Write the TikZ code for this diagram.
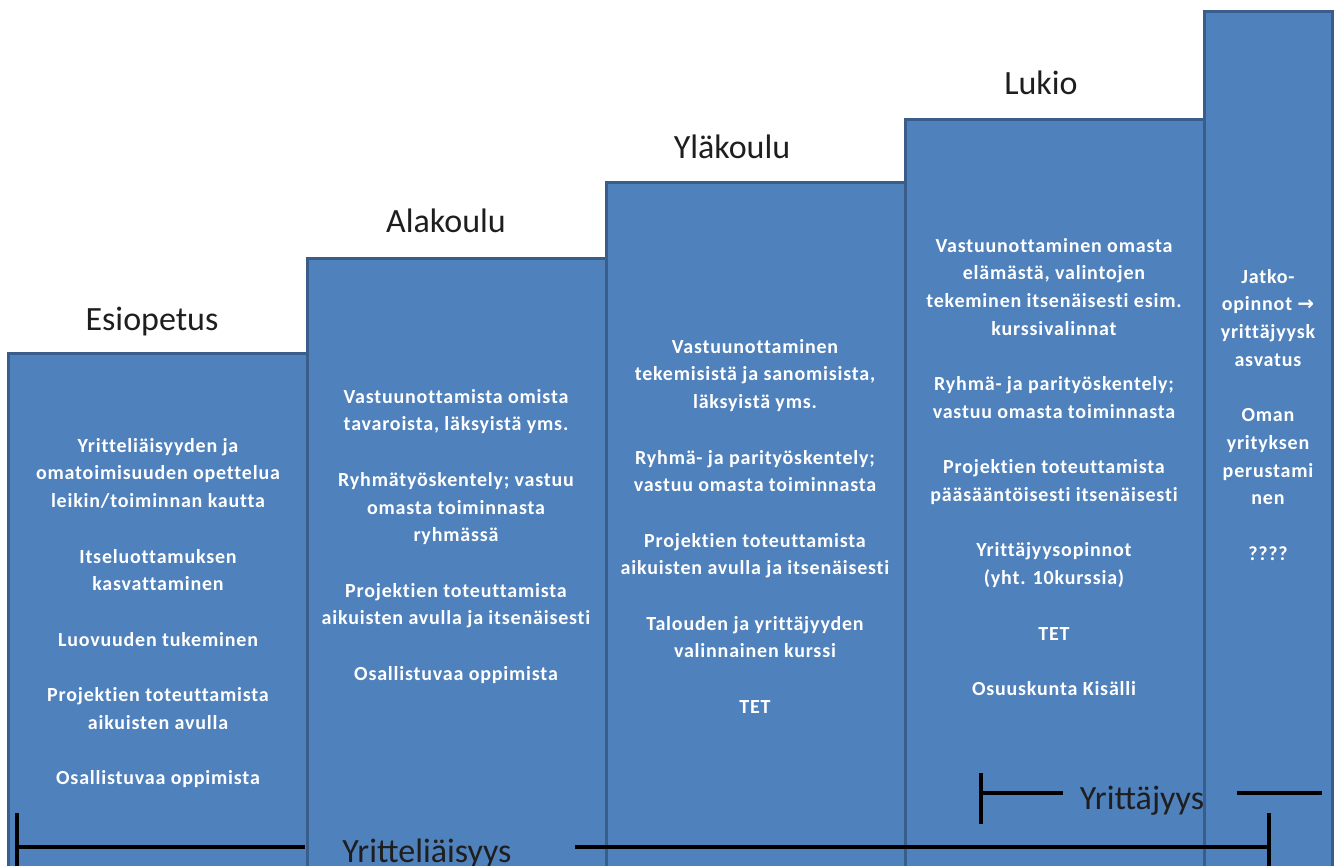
\documentclass[tikz,border=0pt]{standalone}
\usepackage{fontspec}
\setmainfont{Carlito}
\newfontfamily\bodyfamily{Carlito}[Ligatures=CommonOff, LetterSpace=4]
\newfontfamily\arrowfont{DejaVu Sans}
\definecolor{colfill}{HTML}{4F81BD}
\definecolor{colline}{HTML}{3A5E8C}
\definecolor{titletext}{HTML}{1E1E1E}
\newcommand\firststrut{\rule{0pt}{20pt}}
\newcommand\pbreak{\\[27.7pt]}
\begin{document}
\begin{tikzpicture}[x=1pt,y=-1pt,
  column/.style={fill=colfill, draw=colline, line width=3pt},
  body/.style={text=white, font=\bodyfamily\fontsize{20}{27.7}\selectfont\bfseries, align=center, anchor=north, inner sep=0pt},
  title/.style={font=\fontsize{34}{40}\selectfont, text=titletext, anchor=base, inner sep=0pt},
  bar/.style={line width=4.5pt, draw=black}]

\useasboundingbox (0,0) rectangle (1339,866);
\clip (0,0) rectangle (1339,866);

% columns
\path[column] (1204,12) rectangle (1332,900);
\path[column] (905,120) rectangle (1204,900);
\path[column] (606,183) rectangle (905,900);
\path[column] (307,259) rectangle (606,900);
\path[column] (8,354) rectangle (307,900);

% titles
\node[title] (esi) at (152,331) {Esiopetus};
\node[title] (ala) at (446,233) {Alakoulu};
\node[title] (yla) at (732,159) {Yläkoulu};
\node[title] (luk) at (1041,95) {Lukio};

% column texts
\node[body] (t1) at (158,432) {\firststrut Yritteliäisyyden ja\\ omatoimisuuden opettelua\\ leikin/toiminnan kautta\pbreak
Itseluottamuksen\\ kasvattaminen\pbreak
Luovuuden tukeminen\pbreak
Projektien toteuttamista\\ aikuisten avulla\pbreak
Osallistuvaa oppimista};

\node[body] (t2) at (456,383) {\firststrut Vastuunottamista omista\\ tavaroista, läksyistä yms.\pbreak
Ryhmätyöskentely; vastuu\\ omasta toiminnasta\\ ryhmässä\pbreak
Projektien toteuttamista\\ aikuisten avulla ja itsenäisesti\pbreak
Osallistuvaa oppimista};

\node[body] (t3) at (755,333) {\firststrut Vastuunottaminen\\ tekemisistä ja sanomisista,\\ läksyistä yms.\pbreak
Ryhmä- ja parityöskentely;\\ vastuu omasta toiminnasta\pbreak
Projektien toteuttamista\\ aikuisten avulla ja itsenäisesti\pbreak
Talouden ja yrittäjyyden\\ valinnainen kurssi\pbreak
TET};

\node[body] (t4) at (1054,232) {\firststrut Vastuunottaminen omasta\\ elämästä, valintojen\\ tekeminen itsenäisesti esim.\\ kurssivalinnat\pbreak
Ryhmä- ja parityöskentely;\\ vastuu omasta toiminnasta\pbreak
Projektien toteuttamista\\ pääsääntöisesti itsenäisesti\pbreak
Yrittäjyysopinnot\\ (yht. 10kurssia)\pbreak
TET\pbreak
Osuuskunta Kisälli};

\node[body] (t5) at (1268,263) {\firststrut Jatko-\\ opinnot {\arrowfont →}\\ yrittäjyysk\\ asvatus\pbreak
Oman\\ yrityksen\\ perustami\\ nen\pbreak
????};

% bracket labels
\node[title] (yrt) at (1142,809) {Yrittäjyys};
\node[title] (yrl) at (427,862) {Yritteliäisyys};

% Yritteliäisyys bracket
\coordinate (ylTickTop) at (17,813);
\coordinate (ylTickBot) at (17,872);
\coordinate (ylLeft) at (17,847);
\coordinate (ylLeftEnd) at (305,847);
\coordinate (ylRightStart) at (575,847);
\coordinate (ylRight) at (1269,847);
\coordinate (ylRTickTop) at (1269,813);
\coordinate (ylRTickBot) at (1269,872);
\draw[bar] (ylTickTop) -- (ylTickBot);
\draw[bar] (ylLeft) -- (ylLeftEnd);
\draw[bar] (ylRightStart) -- (ylRight);
\draw[bar] (ylRTickTop) -- (ylRTickBot);

% Yrittäjyys bracket
\coordinate (yrTickTop) at (981,773);
\coordinate (yrTickBot) at (981,824);
\coordinate (yrLeft) at (981,793);
\coordinate (yrLeftEnd) at (1063,793);
\coordinate (yrRightStart) at (1237,793);
\coordinate (yrRightEnd) at (1322,793);
\draw[bar] (yrTickTop) -- (yrTickBot);
\draw[bar] (yrLeft) -- (yrLeftEnd);
\draw[bar] (yrRightStart) -- (yrRightEnd);
\end{tikzpicture}
\end{document}
